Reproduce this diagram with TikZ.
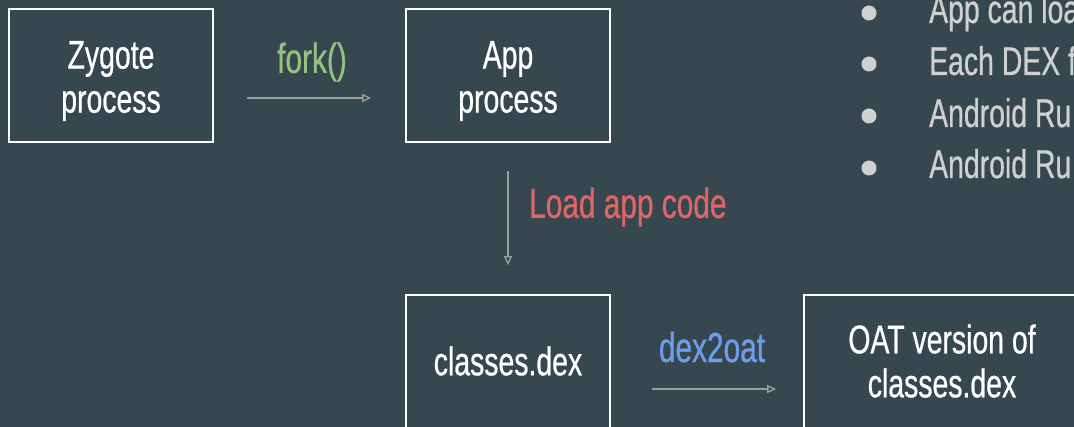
\documentclass[tikz,border=0pt]{standalone}
\usepackage{fontspec}
\setmainfont[FakeStretch=0.71, FakeBold=0.6]{Liberation Sans}
\usetikzlibrary{arrows.meta}
\definecolor{bg}{HTML}{37474F}
\definecolor{arr}{HTML}{9E9E9E}
\definecolor{lblgreen}{HTML}{93C47D}
\definecolor{lblred}{HTML}{E06666}
\definecolor{lblblue}{HTML}{6D9EEB}
\definecolor{bullettxt}{HTML}{D0D0D0}
\tikzset{
  procbox/.style={draw=white, line width=1.6pt, minimum width=204pt, minimum height=133pt, inner sep=0pt},
  boxtext/.style={text=white, align=center, font=\fontsize{40}{44}\selectfont, inner sep=0pt},
  lbl/.style={font=\fontsize{42}{46}\selectfont, inner sep=0pt},
  flow/.style={draw=arr, line width=1.3pt, -{Triangle[open, length=9pt, width=8pt]}},
  bul/.style={fill=bullettxt, draw=none},
  bultext/.style={text=bullettxt, font=\fontsize{40}{44}\selectfont, inner sep=0pt, anchor=base west}
}
\begin{document}
\begin{tikzpicture}[x=1pt,y=-1pt]
\useasboundingbox (0,0) rectangle (1074,427);
\clip (0,0) rectangle (1074,427);
\fill[bg] (0,0) rectangle (1074,427);
% boxes
\node[procbox] (zyg) at (111,75.5) {};
\node[procbox] (app) at (508,75.5) {};
\node[procbox] (dex) at (508,361.5) {};
\node[procbox, minimum width=276pt] (oat) at (942,361.5) {};
% box texts
\node[boxtext] (zygt) at (111,81) {Zygote\\process};
\node[boxtext] (appt) at (508,81) {App\\process};
\node[boxtext] (dext) at (508,361) {classes.dex};
\node[boxtext] (oatt) at (942,361) {OAT version of\\classes.dex};
% connectors
\draw[flow, shorten <=33pt, shorten >=34pt] ([yshift=-22.5pt]zyg.east) -- ([yshift=-22.5pt]app.west);
\draw[flow, shorten <=28pt, shorten >=29pt] (app.south) -- (dex.north);
\draw[flow, shorten <=41pt, shorten >=27pt] ([yshift=-27.5pt]dex.east) -- ([yshift=-27.5pt]oat.west);
% labels
\node[lbl, text=lblgreen] (fork) at (312,62) {fork()};
\node[lbl, text=lblred, anchor=west] (load) at (529,207) {Load app code};
\node[lbl, text=lblblue] (d2o) at (712,347) {dex2oat};
% bullets
\fill[bul] (869,13) circle (7.5pt);
\fill[bul] (869,64) circle (7.5pt);
\fill[bul] (869,116) circle (7.5pt);
\fill[bul] (869,168) circle (7.5pt);
\node[bultext] (b1) at (929,23) {App can loa};
\node[bultext] (b2) at (929,75) {Each DEX f};
\node[bultext] (b3) at (929,127) {Android Ru};
\node[bultext] (b4) at (929,178) {Android Ru};
\end{tikzpicture}
\end{document}
